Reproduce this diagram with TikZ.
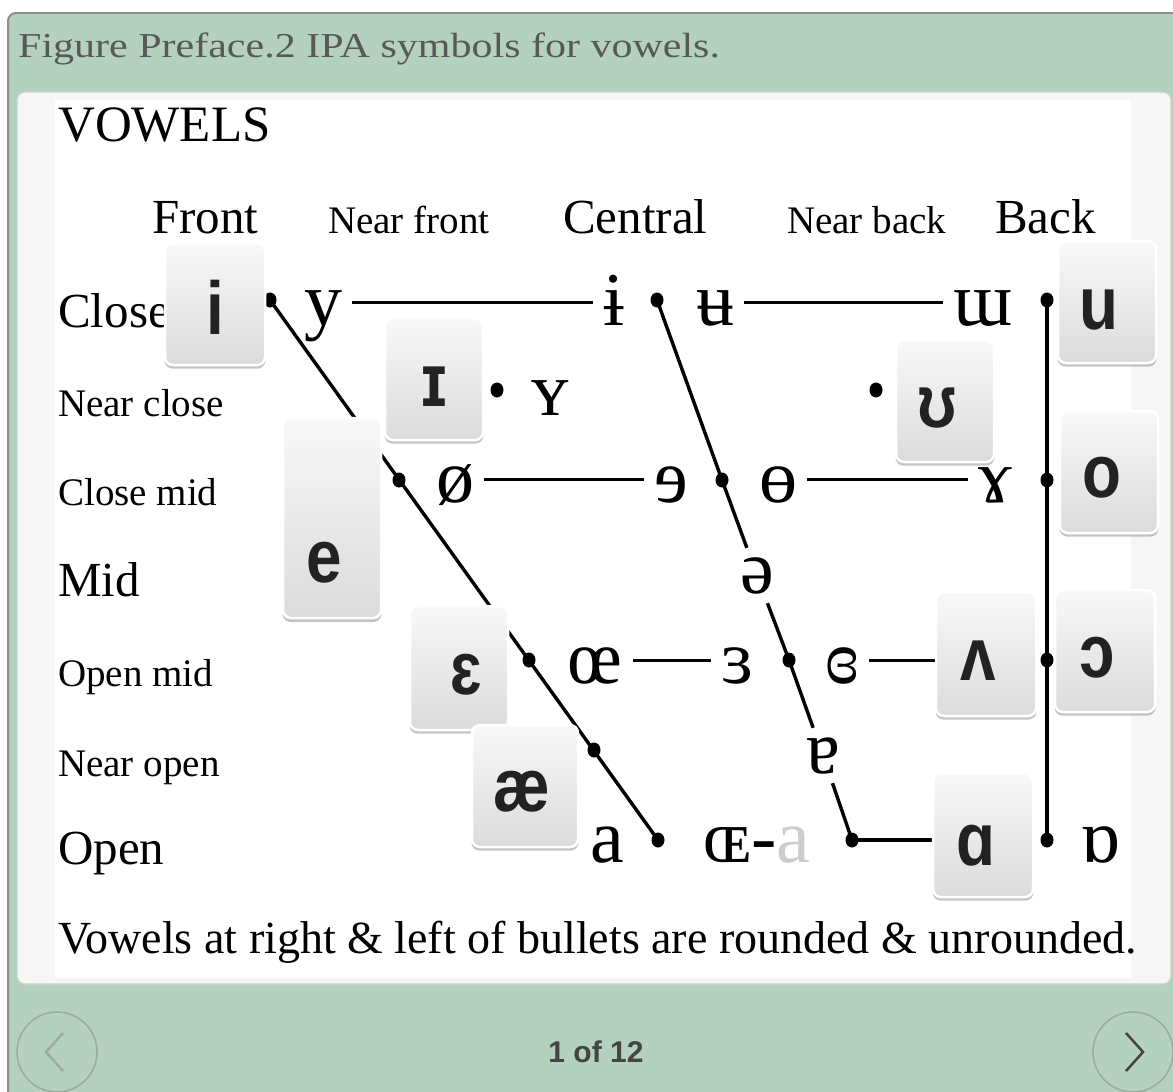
\documentclass[tikz,border=0pt]{standalone}
\usepackage{fontspec}
\setmainfont{Liberation Serif}
\newfontfamily\capfont[FakeStretch=1.2]{Liberation Serif}
\newfontfamily\keyfont[FakeStretch=0.85]{Liberation Sans}
\newfontfamily\navfont{Liberation Sans}
\usepackage{tikz}
\usetikzlibrary{shadows}
\definecolor{framegreen}{RGB}{180,208,190}
\definecolor{framegrey}{RGB}{142,142,142}
\definecolor{panelline}{RGB}{196,212,201}
\definecolor{panelgrey}{RGB}{246,246,246}
\definecolor{keytop}{RGB}{248,248,248}
\definecolor{keybot}{RGB}{219,219,219}
\definecolor{keyink}{RGB}{34,34,34}
\definecolor{capgrey}{RGB}{88,88,88}
\definecolor{fadeda}{RGB}{204,204,204}
\definecolor{navring}{RGB}{150,176,158}
\definecolor{navdark}{RGB}{68,68,68}
\definecolor{navlight}{RGB}{160,170,164}
\pgfdeclarelayer{back}
\pgfdeclarelayer{lines}
\pgfsetlayers{back,lines,main}
\tikzset{
  bigtxt/.style={anchor=base west, inner sep=0pt, font=\fontsize{49pt}{52pt}\selectfont},
  smalltxt/.style={anchor=base west, inner sep=0pt, font=\fontsize{39pt}{42pt}\selectfont},
  ipa/.style={anchor=base, inner xsep=10pt, inner ysep=0pt, text height=45pt,
    text depth=0pt, font=\fontsize{76pt}{80pt}\selectfont},
  midipa/.style={anchor=base, inner sep=5pt, text height=40pt, text depth=5pt,
    font=\fontsize{76pt}{80pt}\selectfont},
  dot/.style={ellipse, fill=black, inner sep=0pt, minimum width=13pt, minimum height=15pt},
  ln/.style={line width=3.4pt, black},
  keybox/.style={rectangle, rounded corners=8pt, draw=white, line width=2.5pt,
    top color=keytop, bottom color=keybot, inner sep=0pt,
    minimum width=98pt, minimum height=122pt,
    drop shadow={opacity=0.45, shadow xshift=0pt, shadow yshift=-3pt, shadow scale=1.01}},
  keyletter/.style={inner sep=0pt, text=keyink,
    font=\keyfont\bfseries\fontsize{75pt}{78pt}\selectfont},
  navbtn/.style={circle, draw=navring, line width=1.6pt, minimum size=80pt, inner sep=0pt}
}
\usetikzlibrary{shapes.geometric}

\begin{document}
\begin{tikzpicture}[x=1pt, y=-1pt]
  \useasboundingbox (0,0) rectangle (1173,1092);

  % frame, caption bar and white panel
  \begin{pgfonlayer}{back}
    \fill[white] (0,0) rectangle (1173,1092);
    \draw[fill=framegreen, draw=framegrey, line width=2pt, rounded corners=8pt] (8,13) rectangle (1200,1120);
    \draw[fill=panelgrey, draw=panelline, line width=1.2pt, rounded corners=8pt] (17,92) rectangle (1171,984);
    \fill[white] (55,100) rectangle (1131,978);
  \end{pgfonlayer}

  \node[anchor=base west, inner sep=0pt, text=capgrey, font=\capfont\fontsize{35pt}{38pt}\selectfont]
    (caption) at (18,57) {Figure Preface.2 IPA symbols for vowels.};

  % headings
  \node[bigtxt, font=\fontsize{51pt}{54pt}\selectfont] (title) at (58,141) {VOWELS};
  \node[bigtxt] (front) at (152,233) {Front};
  \node[smalltxt] (nfront) at (328,233) {Near front};
  \node[bigtxt] (central) at (563,233) {Central};
  \node[smalltxt] (nback) at (787,233) {Near back};
  \node[bigtxt] (back) at (995,233) {Back};

  \node[bigtxt] (close) at (58,327) {Close};
  \node[smalltxt] (nclose) at (58,416) {Near close};
  \node[smalltxt] (closemid) at (58,505) {Close mid};
  \node[bigtxt] (mid) at (58,596) {Mid};
  \node[smalltxt] (openmid) at (58,686) {Open mid};
  \node[smalltxt] (nopen) at (58,776) {Near open};
  \node[bigtxt] (open) at (58,864) {Open};

  % bullets
  \node[dot] (f1) at (270,300) {};
  \node[dot] (f2) at (399,480) {};
  \node[dot] (f3) at (529,660) {};
  \node[dot] (f4) at (594,750) {};
  \node[dot] (f5) at (658,840) {};
  \node[dot] (c1) at (657,300) {};
  \node[dot] (c2) at (722,480) {};
  \node[dot] (c3) at (789,660) {};
  \node[dot] (c4) at (852,840) {};
  \node[dot] (k1) at (1047,300) {};
  \node[dot] (k2) at (1047,480) {};
  \node[dot] (k3) at (1047,660) {};
  \node[dot] (k4) at (1047,840) {};
  \node[dot] (n1) at (497,390) {};
  \node[dot] (n2) at (876,390) {};

  % vowel symbols
  \node[ipa] (sy) at (323,325) {y};
  \node[ipa] (sbari) at (614,325) {ɨ};
  \node[ipa] (sbaru) at (715,325) {ʉ};
  \node[ipa] (sturm) at (983,325) {ɯ};
  \node[ipa] (scapy) at (550,415) {ʏ};
  \node[ipa] (sslo) at (455,502) {ø};
  \node[ipa] (srevea) at (671,502) {ɘ};
  \node[ipa] (sbaro) at (778,502) {ɵ};
  \node[ipa] (sram) at (995,502) {ɤ};
  \node[midipa] (schwa) at (757,593) {ə};
  \node[ipa] (soe) at (595,683) {œ};
  \node[ipa] (sreveps) at (737,683) {ɜ};
  \node[ipa] (sclosed) at (842,683) {ɞ};
  \node[midipa] (sturna) at (823,773) {ɐ};
  \node[ipa] (sa) at (607,862) {a};
  \node[ipa] (scapoe) at (757,862) {ɶ-\textcolor{fadeda}{a}};
  \node[ipa] (sturnalpha) at (1100,862) {ɒ};

  % keys
  \node[keybox, minimum width=100pt] (ki) at (215,304) {};
  \node[keyletter] (li) at (215,307) {i};
  \node[keybox] (kcapi) at (434,379) {};
  \node[keyletter] (lcapi) at (434,387) {ɪ};
  \node[keybox, minimum height=200pt] (ke) at (332,518) {};
  \node[keyletter] (le) at (324,563) {e};
  \node[keybox, minimum height=124pt] (keps) at (459,668) {};
  \node[keyletter] (leps) at (466,675) {ɛ};
  \node[keybox, minimum width=106pt] (kae) at (525,786) {};
  \node[keyletter] (lae) at (522,792) {æ};
  \node[keybox] (kups) at (945,401) {};
  \node[keyletter] (lups) at (937,408) {ʊ};
  \node[keybox] (ku) at (1107,302) {};
  \node[keyletter] (lu) at (1099,310) {u};
  \node[keybox] (ko) at (1109,472) {};
  \node[keyletter] (lo) at (1102,478) {o};
  \node[keybox, minimum width=100pt, minimum height=124pt] (kwedge) at (986,654) {};
  \node[keyletter] (lwedge) at (978,661) {ʌ};
  \node[keybox, minimum width=100pt] (kopeno) at (1105,651) {};
  \node[keyletter] (lopeno) at (1097,658) {ɔ};
  \node[keybox, minimum width=100pt, minimum height=124pt] (kalpha) at (983,835) {};
  \node[keyletter] (lalpha) at (976,846) {ɑ};

  % connecting lines
  \begin{pgfonlayer}{lines}
    \draw[ln] (f1.center) -- (f5.center);
    \draw[ln] (c1.center) -- (c2.center) -- (schwa);
    \draw[ln] (schwa) -- (c3.center) -- (sturna);
    \draw[ln] (sturna) -- (c4.center);
    \draw[ln] (k1.center) -- (k4.center);
    \draw[ln] (sy) -- (sbari);
    \draw[ln] (sbaru) -- (sturm);
    \draw[ln] (sslo) -- (srevea);
    \draw[ln] (sbaro) -- (sram);
    \draw[ln] (soe) -- (sreveps);
    \draw[ln] (sclosed) -- (sclosed -| kwedge.west);
    \draw[ln] (c4.center) -- (c4 -| kalpha.west);
  \end{pgfonlayer}

  \node[bigtxt, font=\fontsize{46pt}{50pt}\selectfont] (note) at (58,953)
    {Vowels at right \& left of bullets are rounded \& unrounded.};

  % pager
  \node[navbtn] (prev) at (57,1052) {};
  \node[navbtn] (next) at (1133,1052) {};
  \draw[navlight, line width=2.5pt, line join=miter] ([shift={(6,-19)}]prev.center) -- ([shift={(-11,0)}]prev.center) -- ([shift={(6,19)}]prev.center);
  \draw[navdark, line width=2.5pt, line join=miter] ([shift={(-7,-19)}]next.center) -- ([shift={(10,0)}]next.center) -- ([shift={(-7,19)}]next.center);
  \node[text=navdark, font=\navfont\bfseries\fontsize{30pt}{32pt}\selectfont] (pager) at (596,1052) {1 of 12};
\end{tikzpicture}
\end{document}
